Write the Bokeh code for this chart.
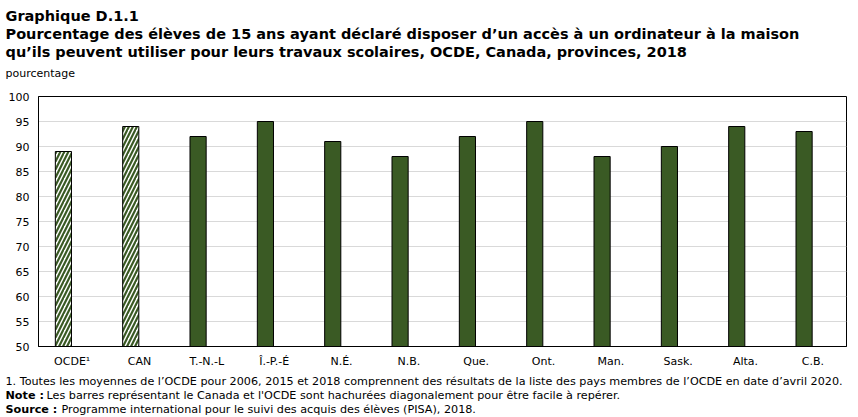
from bokeh.plotting import figure
from bokeh.models import ColumnDataSource, Label, FixedTicker
from bokeh.layouts import column
from bokeh.transform import dodge
from bokeh.embed import file_html
from bokeh.resources import INLINE

categories = ["OCDE¹", "CAN", "T.-N.-L", "Î.-P.-É", "N.É.", "N.B.", "Que.", "Ont.", "Man.", "Sask.", "Alta.", "C.B."]
values = [89, 94, 92, 95, 91, 88, 92, 95, 88, 90, 94, 93]
hatched = [True, True, False, False, False, False, False, False, False, False, False, False]
y_ticks = [50, 55, 60, 65, 70, 75, 80, 85, 90, 95, 100]

GREEN = "#3a5a24"
FONT = "DejaVu Sans"
W = 858
TOP_H = 90
BOT_H = 46
CHART_H = 417 - TOP_H - BOT_H

hx = [c for c, h in zip(categories, hatched) if h]
hv = [v for v, h in zip(values, hatched) if h]
sx = [c for c, h in zip(categories, hatched) if not h]
sv = [v for v, h in zip(values, hatched) if not h]


def text_fig(h):
    f = figure(width=W, height=h, output_backend="svg", toolbar_location=None,
               x_range=(0, W), y_range=(0, h),
               x_axis_location=None, y_axis_location=None,
               min_border_left=0, min_border_right=0, min_border_top=0, min_border_bottom=0)
    f.grid.visible = False
    f.outline_line_color = None
    try:
        f.frame_align = False
    except Exception:
        pass
    return f


def lab(f, h, x, y_top, t, size, bold=False):
    f.add_layout(Label(x=x, y=h - y_top, x_units="screen", y_units="screen", text=t,
                       text_font=FONT, text_font_size=size,
                       text_font_style="bold" if bold else "normal",
                       text_color="black", text_baseline="middle"))


top = text_fig(TOP_H)
lab(top, TOP_H, 5, 15, "Graphique D.1.1", "14.5px", True)
lab(top, TOP_H, 5, 33, "Pourcentage des élèves de 15 ans ayant déclaré disposer d’un accès à un ordinateur à la maison", "14.5px", True)
lab(top, TOP_H, 5, 51, "qu’ils peuvent utiliser pour leurs travaux scolaires, OCDE, Canada, provinces, 2018", "14.5px", True)
lab(top, TOP_H, 5, 73, "pourcentage", "11px")

p = figure(x_range=categories, y_range=(50, 100), width=W, height=CHART_H,
           output_backend="svg", toolbar_location=None,
           min_border_left=38, min_border_right=12, min_border_top=6, min_border_bottom=CHART_H - 6 - 250)
try:
    p.frame_align = False
except Exception:
    pass

src_s = ColumnDataSource(dict(x=sx, top=sv))
src_h = ColumnDataSource(dict(x=hx, top=hv))
p.vbar(x=dodge("x", -0.13, range=p.x_range), top="top", bottom=50, width=0.24, source=src_s,
       fill_color=GREEN, line_color="black", line_width=1)
p.vbar(x=dodge("x", -0.13, range=p.x_range), top="top", bottom=50, width=0.24, source=src_h,
       fill_color="white", line_color="black", line_width=1,
       hatch_pattern="/", hatch_color=GREEN, hatch_scale=8, hatch_weight=2.2)

p.outline_line_color = "black"
p.outline_line_width = 1
p.xgrid.grid_line_color = None
p.ygrid.grid_line_color = "#d9d9d9"
p.ygrid.ticker = FixedTicker(ticks=y_ticks)
p.yaxis.ticker = FixedTicker(ticks=y_ticks)
for ax in (p.xaxis, p.yaxis):
    ax.axis_line_color = "black"
    ax.major_tick_line_color = None
    ax.minor_tick_line_color = None
    ax.major_tick_out = 0
    ax.major_tick_in = 0
    ax.minor_tick_out = 0
    ax.major_label_text_font = FONT
    ax.major_label_text_font_size = "11px"
    ax.major_label_text_color = "black"
p.yaxis.major_label_standoff = 9
p.xaxis.major_label_standoff = 8
p.x_range.range_padding = 0
p.x_range.factor_padding = 0

bot = text_fig(BOT_H)
lab(bot, BOT_H, 5, 10, "1. Toutes les moyennes de l’OCDE pour 2006, 2015 et 2018 comprennent des résultats de la liste des pays membres de l’OCDE en date d’avril 2020.", "11.2px")
lab(bot, BOT_H, 5, 24, "Note :", "11.2px", True)
lab(bot, BOT_H, 46, 24, "Les barres représentant le Canada et l'OCDE sont hachurées diagonalement pour être facile à repérer.", "11.2px")
lab(bot, BOT_H, 5, 38, "Source :", "11.2px", True)
lab(bot, BOT_H, 61, 38, "Programme international pour le suivi des acquis des élèves (PISA), 2018.", "11.2px")

layout = column(top, p, bot, spacing=0)
open("out.html", "w").write(file_html(layout, INLINE))
